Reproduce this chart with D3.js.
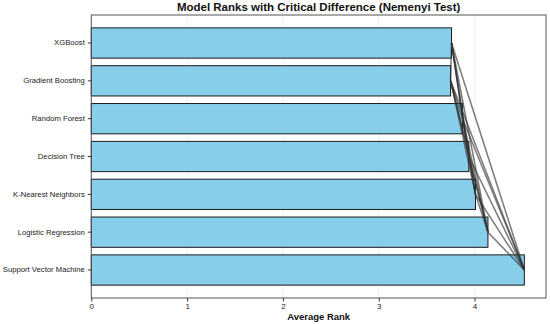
<!DOCTYPE html>
<html><head><meta charset="utf-8">
<script src="https://cdn.jsdelivr.net/npm/d3@7"></script>
<style>body{margin:0;background:#fff;} svg{display:block;font-family:"Liberation Sans",Arial,sans-serif;}</style>
</head><body>
<svg id="c" width="550" height="324"></svg>
<script>
const models = ["XGBoost","Gradient Boosting","Random Forest","Decision Tree","K-Nearest Neighbors","Logistic Regression","Support Vector Machine"];
const avgRanks = [3.76, 3.75, 3.875, 3.94, 4.01, 4.14, 4.52];
const xTicks = [0,1,2,3,4];
const title = "Model Ranks with Critical Difference (Nemenyi Test)";
const xLabel = "Average Rank";

const svg = d3.select("#c");
const L = 91.3, R = 546, T = 15, B = 298;
const xMax = d3.max(avgRanks)*1.05;
const x = d3.scaleLinear().domain([0, xMax]).range([L, R]);
const n = models.length;
const yLin = d3.scaleLinear().domain([-0.74, n-1+0.74]).range([T, B]);
const barH = yLin(0.8) - yLin(0);

// grid
svg.append("g").selectAll("line").data(xTicks).join("line")
  .attr("x1", d=>x(d)).attr("x2", d=>x(d)).attr("y1", T).attr("y2", B)
  .attr("stroke", "#ececec").attr("stroke-width", 0.8);

// bars
svg.append("g").selectAll("rect").data(models).join("rect")
  .attr("x", x(0)).attr("y", (d,i)=>yLin(i)-barH/2)
  .attr("width", (d,i)=>x(avgRanks[i])-x(0)).attr("height", barH)
  .attr("fill", "#87CEEB").attr("stroke", "#1a1a1a").attr("stroke-width", 1);

// CD lines: all pairs
const pairs = [];
for (let i=0;i<n;i++) for (let j=i+1;j<n;j++) pairs.push([i,j]);
svg.append("g").selectAll("line").data(pairs).join("line")
  .attr("x1", d=>x(avgRanks[d[0]])).attr("y1", d=>yLin(d[0]))
  .attr("x2", d=>x(avgRanks[d[1]])).attr("y2", d=>yLin(d[1]))
  .attr("stroke", "#333").attr("stroke-opacity", 0.65).attr("stroke-width", 1.5);

// frame
svg.append("rect").attr("x", L).attr("y", T).attr("width", R-L).attr("height", B-T)
  .attr("fill", "none").attr("stroke", "#555").attr("stroke-width", 1);

// x axis
const xa = svg.append("g").attr("transform", `translate(0,${B})`)
  .call(d3.axisBottom(x).tickValues(xTicks).tickFormat(d3.format("d")).tickSize(3.5).tickPadding(2));
xa.select(".domain").remove();
xa.selectAll("line").attr("stroke", "#333");
xa.selectAll("text").attr("font-size", 8).attr("fill", "#222").style("font-family", "Liberation Sans, Arial, sans-serif");

// y axis
const yb = d3.scaleBand().domain(models).range([yLin(-0.5), yLin(n-0.5)]);
const ya = svg.append("g").attr("transform", `translate(${L},0)`)
  .call(d3.axisLeft(yb).tickSize(3.5).tickPadding(3));
ya.select(".domain").remove();
ya.selectAll("line").attr("stroke", "#333");
ya.selectAll("text").attr("font-size", 7.7).attr("fill", "#222").style("font-family", "Liberation Sans, Arial, sans-serif");

svg.append("text").attr("x", (L+R)/2).attr("y", 11).attr("text-anchor", "middle")
  .attr("font-size", 11.5).attr("font-weight", "bold").attr("fill", "#111").text(title);
svg.append("text").attr("x", (L+R)/2).attr("y", 320).attr("text-anchor", "middle")
  .attr("font-size", 9.5).attr("font-weight", "bold").attr("fill", "#111").text(xLabel);
</script>
</body></html>
